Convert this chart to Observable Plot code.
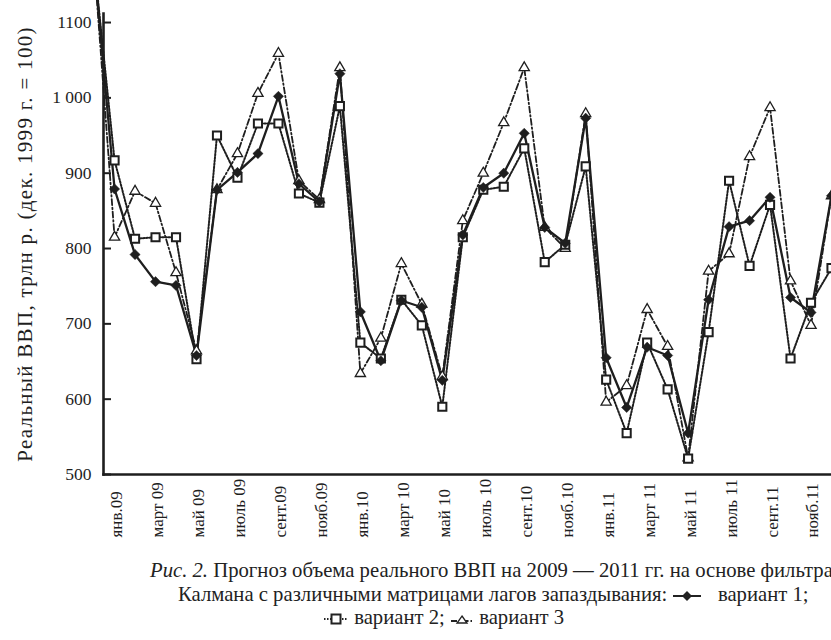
<!DOCTYPE html>
<html>
<head>
<meta charset="utf-8">
<script src="https://cdn.jsdelivr.net/npm/d3@7"></script>
<script src="https://cdn.jsdelivr.net/npm/@observablehq/plot@0.6"></script>
<style>
  body { margin: 0; background: #fff; width: 831px; overflow: hidden; }
  #wrap { position: relative; width: 831px; height: 640px; overflow: hidden; }
  #chart svg { overflow: hidden; font-family: "Liberation Serif", "DejaVu Serif", serif; }
  #chart svg text { font-family: "Liberation Serif", "DejaVu Serif", serif; }
  .cap { position: absolute; white-space: nowrap; font-family: "Liberation Serif", "DejaVu Serif", serif; font-size: 20.7px; color: #222; }
  .cap svg { vertical-align: middle; }
</style>
</head>
<body>
<div id="wrap">
  <div id="chart"></div>
  <div class="cap" style="left:150px; top:559px;"><i>Рис. 2.</i> Прогноз объема реального ВВП на 2009 — 2011 гг. на основе фильтра</div>
  <div class="cap" style="left:178px; top:583px;">Калмана с различными матрицами лагов запаздывания:
    <svg width="30" height="12" viewBox="0 0 30 12"><line x1="1" y1="6" x2="29" y2="6" stroke="#222" stroke-width="2"/><path d="M15 1 L20 6 L15 11 L10 6 Z" fill="#222"/></svg>
    &nbsp;&nbsp;вариант 1;</div>
  <div class="cap" style="left:323px; top:606px;"><svg width="26" height="12" viewBox="0 0 26 12"><line x1="1" y1="6" x2="25" y2="6" stroke="#222" stroke-width="2" stroke-dasharray="1.5,1.5"/><rect x="8.5" y="1.5" width="9" height="9" fill="#fff" stroke="#222" stroke-width="2"/></svg> вариант 2;
    <svg width="24" height="12" viewBox="0 0 24 12"><line x1="1" y1="8" x2="23" y2="8" stroke="#222" stroke-width="2" stroke-dasharray="6,2,1.5,2"/><path d="M12 3 L17 10 L7 10 Z" fill="#fff" stroke="#222" stroke-width="1.3"/></svg> вариант 3</div>
</div>
<script>
// month index: -1 = дек.08, 0 = янв.09 ... 35 = дек.11
const months = d3.range(-1, 36);

const variant1 = [1180, 879, 792, 756, 751, 658, 878, 901, 926, 1002, 886, 862, 1032, 716, 651, 731, 722, 625, 818, 881, 900, 953, 828, 807, 973, 655, 589, 669, 658, 555, 732, 829, 837, 868, 735, 715, 870];
const variant2 = [1180, 917, 813, 815, 815, 653, 950, 894, 966, 966, 873, 861, 989, 675, 654, 732, 698, 590, 815, 878, 882, 933, 782, 805, 909, 626, 555, 675, 613, 521, 689, 890, 777, 858, 654, 728, 774];
const variant3 = [1180, 815, 876, 860, 768, 664, 878, 926, 1006, 1059, 890, 865, 1040, 634, 681, 780, 726, 630, 837, 900, 967, 1040, 828, 800, 979, 596, 618, 719, 670, 522, 770, 793, 922, 987, 757, 698, 870];

const xTickIndex = d3.range(0, 35, 2);
const xTickLabels = ["янв.09", "март 09", "май 09", "июль 09", "сент.09", "нояб.09", "янв.10", "март 10", "май 10", "июль 10", "сент.10", "нояб.10", "янв.11", "март 11", "май 11", "июль 11", "сент.11", "нояб.11"];

const yTicks = [500, 600, 700, 800, 900, 1000, 1100];
const yTickLabels = ["500", "600", "700", "800", "900", "1 000", "1100"];
const yLabel = "Реальный ВВП, трлн р. (дек. 1999 г. = 100)";

const toRows = (vals) => months.map((m, i) => ({m, v: vals[i]}));
const s1 = toRows(variant1), s2 = toRows(variant2), s3 = toRows(variant3);
const yLab = new Map(yTicks.map((t, i) => [t, yTickLabels[i]]));
const ink = "#1e1e1e";
const serif = "'Liberation Serif', 'DejaVu Serif', serif";

const chart = Plot.plot({
  width: 831,
  height: 555,
  marginLeft: 103,
  marginRight: 0,
  marginTop: 13,
  marginBottom: 81,
  style: {fontFamily: serif, color: ink, background: "#fff", overflow: "hidden"},
  x: {type: "linear", domain: [-0.54, 35], axis: null},
  y: {domain: [500, 1112], axis: null},
  marks: [
    Plot.line(s3, {x: "m", y: "v", stroke: ink, strokeWidth: 1.8, strokeDasharray: "6,2.5,1.5,2.5"}),
    Plot.line(s2, {x: "m", y: "v", stroke: ink, strokeWidth: 2, strokeDasharray: "1.6,1.6"}),
    Plot.line(s1, {x: "m", y: "v", stroke: ink, strokeWidth: 2.3}),
    Plot.dot(s3.filter(d => d.m >= 0), {x: "m", y: "v", symbol: "triangle", r: 3.8, fill: "#fff", stroke: ink, strokeWidth: 1.3}),
    Plot.dot(s2.filter(d => d.m >= 0), {x: "m", y: "v", symbol: "square", r: 4.6, fill: "#fff", stroke: ink, strokeWidth: 2}),
    Plot.dot(s1.filter(d => d.m >= 0), {x: "m", y: "v", symbol: "diamond2", r: 4.6, fill: ink, stroke: ink, strokeWidth: 0.5}),
    Plot.axisY({ticks: yTicks, tickFormat: d => yLab.get(d), tickSize: -8, tickPadding: 20, fontSize: 17.5, fontFamily: serif, strokeWidth: 2, label: null}),
    Plot.frame({anchor: "left", stroke: ink, strokeWidth: 2.6}),
    Plot.frame({anchor: "bottom", stroke: ink, strokeWidth: 2.6}),
    Plot.text(xTickLabels, {x: (d, i) => xTickIndex[i], frameAnchor: "bottom", dy: 63, dx: 2, rotate: -90, textAnchor: "start", lineAnchor: "middle", fontSize: 17, fontFamily: serif, fill: ink}),
    Plot.text([yLabel], {frameAnchor: "left", dx: -78, rotate: -90, textAnchor: "middle", lineAnchor: "middle", fontSize: 21, fontFamily: serif, fill: ink})
  ]
});
document.getElementById("chart").appendChild(chart);
chart.querySelectorAll("text").forEach(t => {
  if (t.textContent === yLabel) t.style.letterSpacing = "1.3px";
});
</script>
</body>
</html>
